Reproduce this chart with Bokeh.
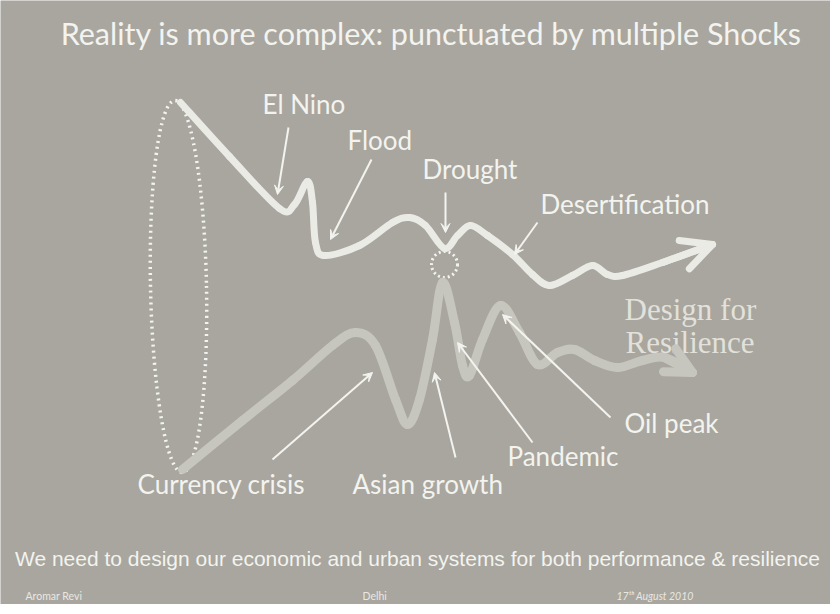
from bokeh.plotting import figure
from bokeh.models import Range1d, Arrow, VeeHead, OpenHead, ColumnDataSource
from bokeh.core.properties import value
from bokeh.embed import file_html
from bokeh.resources import INLINE

# ---- data (slide coordinates, pixels) ----
upper_x = [188, 237, 287, 302, 315, 320, 323, 332, 367, 400, 417, 433, 452, 465, 478, 495, 520, 540, 557, 580, 600, 615, 630, 670, 720]
upper_y = [110, 164, 216, 212, 189, 210, 250, 263, 253, 230, 225, 233, 256, 243, 233, 243, 262, 282, 293, 283, 273, 282, 283, 270, 252]

lower_x = [190, 250, 300, 340, 363, 383, 403, 415, 427, 440, 450, 462, 470, 477, 490, 508, 527, 545, 565, 582, 602, 625, 650, 672, 700]
lower_y = [477, 428, 388, 353, 340, 353, 407, 432, 407, 347, 290, 330, 373, 383, 347, 313, 340, 372, 360, 357, 368, 375, 368, 365, 380]

shock_labels = ["El Nino", "Flood", "Drought", "Desertification",
                "Currency crisis", "Asian growth", "Pandemic", "Oil peak"]
label_x = [270, 355, 430, 548, 145, 360, 515, 632]
label_y = [111, 147, 176, 211, 491, 491, 463, 430]

arrow_x0 = [296, 379, 453, 545, 280, 463, 540, 618]
arrow_y0 = [135, 167, 200, 230, 467, 465, 450, 425]
arrow_x1 = [285, 338, 453, 522, 380, 442, 465, 510]
arrow_y1 = [202, 247, 240, 262, 380, 380, 350, 322]

title = "Reality is more complex: punctuated by multiple Shocks"
resilience_lines = ["Design for", "Resilience"]
resilience_x = [632, 633]
resilience_y = [317, 350]
message = "We need to design our economic and urban systems for both performance & resilience"
footer = ["Aromar Revi", "Delhi"]
footer_x = [33, 370]
footer_date = "17\u1d57\u02b0 August 2010"

BG = "#a8a69e"
WHITE = "#f3f3ef"
UPPER = "#ebebe6"
LOWER = "#c6c5be"

p = figure(width=830, height=604, x_range=Range1d(8, 838), y_range=Range1d(612, 8),
           output_backend="svg", toolbar_location=None, min_border=0)
p.axis.visible = False
p.grid.visible = False
p.outline_line_color = None
p.background_fill_color = BG
p.border_fill_color = BG


def catmull_bezier(xs, ys):
    n = len(xs)
    P = list(zip(xs, ys))
    out = dict(x0=[], y0=[], x1=[], y1=[], cx0=[], cy0=[], cx1=[], cy1=[])
    for i in range(n - 1):
        p0 = P[i - 1] if i > 0 else P[i]
        p1 = P[i]
        p2 = P[i + 1]
        p3 = P[i + 2] if i + 2 < n else P[i + 1]
        out["x0"].append(p1[0]); out["y0"].append(p1[1])
        out["x1"].append(p2[0]); out["y1"].append(p2[1])
        out["cx0"].append(p1[0] + (p2[0] - p0[0]) / 6.0)
        out["cy0"].append(p1[1] + (p2[1] - p0[1]) / 6.0)
        out["cx1"].append(p2[0] - (p3[0] - p1[0]) / 6.0)
        out["cy1"].append(p2[1] - (p3[1] - p1[1]) / 6.0)
    return ColumnDataSource(out)


# dotted envelope ellipse and small dotted circle
p.ellipse(x=186, y=294, width=56, height=372, angle=0.02, fill_color=None,
          line_color=WHITE, line_width=3.5, line_dash="2 4")
p.circle(x=452, y=272, radius=13, fill_color=None, line_color=WHITE,
         line_width=3, line_dash="2 3")

# lower (performance) curve
p.bezier(x0="x0", y0="y0", x1="x1", y1="y1", cx0="cx0", cy0="cy0", cx1="cx1", cy1="cy1",
         source=catmull_bezier(lower_x, lower_y), line_color=LOWER, line_width=9,
         line_cap="round")
p.add_layout(Arrow(end=OpenHead(size=26, line_width=9, line_color=LOWER, line_cap="round",
                                line_join="round"),
                   x_start=lower_x[-2], y_start=lower_y[-2], x_end=lower_x[-1], y_end=lower_y[-1],
                   line_width=9, line_color=LOWER, line_cap="round"))

# upper (resilience) curve
p.bezier(x0="x0", y0="y0", x1="x1", y1="y1", cx0="cx0", cy0="cy0", cx1="cx1", cy1="cy1",
         source=catmull_bezier(upper_x, upper_y), line_color=UPPER, line_width=7,
         line_cap="round")
p.add_layout(Arrow(end=OpenHead(size=30, line_width=7, line_color=UPPER, line_cap="round",
                                line_join="round"),
                   x_start=upper_x[-2], y_start=upper_y[-2], x_end=upper_x[-1], y_end=upper_y[-1],
                   line_width=7, line_color=UPPER, line_cap="round"))

# shock arrows
asrc = ColumnDataSource(dict(x0=arrow_x0, y0=arrow_y0, x1=arrow_x1, y1=arrow_y1))
p.add_layout(Arrow(end=VeeHead(size=9, fill_color=WHITE, line_color=WHITE, line_width=1),
                   x_start="x0", y_start="y0", x_end="x1", y_end="y1", source=asrc,
                   line_color=WHITE, line_width=2))

# labels
p.text(x=label_x, y=label_y, text=shock_labels, text_font=value("Lato"),
       text_font_size="26px", text_color=WHITE, text_baseline="middle", text_align="left")

p.text(x=resilience_x, y=resilience_y, text=resilience_lines,
       text_font=value("Liberation Serif"), text_font_size="31px", text_color="#e2e1db",
       text_baseline="middle", text_align="left")

p.text(x=[439], y=[40], text=[title], text_font=value("Lato"), text_font_size="30.5px",
       text_color=WHITE, text_baseline="middle", text_align="center")

p.text(x=[425], y=[566], text=[message], text_font=value("Liberation Sans"),
       text_font_size="21px", text_color=WHITE, text_baseline="middle", text_align="center")

p.text(x=footer_x, y=[603, 603], text=footer, text_font=value("Lato"),
       text_font_size="10.5px", text_color="#e8e8e3", text_baseline="middle", text_align="left")
p.text(x=[624], y=[603], text=[footer_date], text_font=value("Lato"),
       text_font_size="10.5px", text_font_style="italic", text_color="#e8e8e3",
       text_baseline="middle", text_align="left")

open("out.html", "w").write(file_html(p, INLINE))
